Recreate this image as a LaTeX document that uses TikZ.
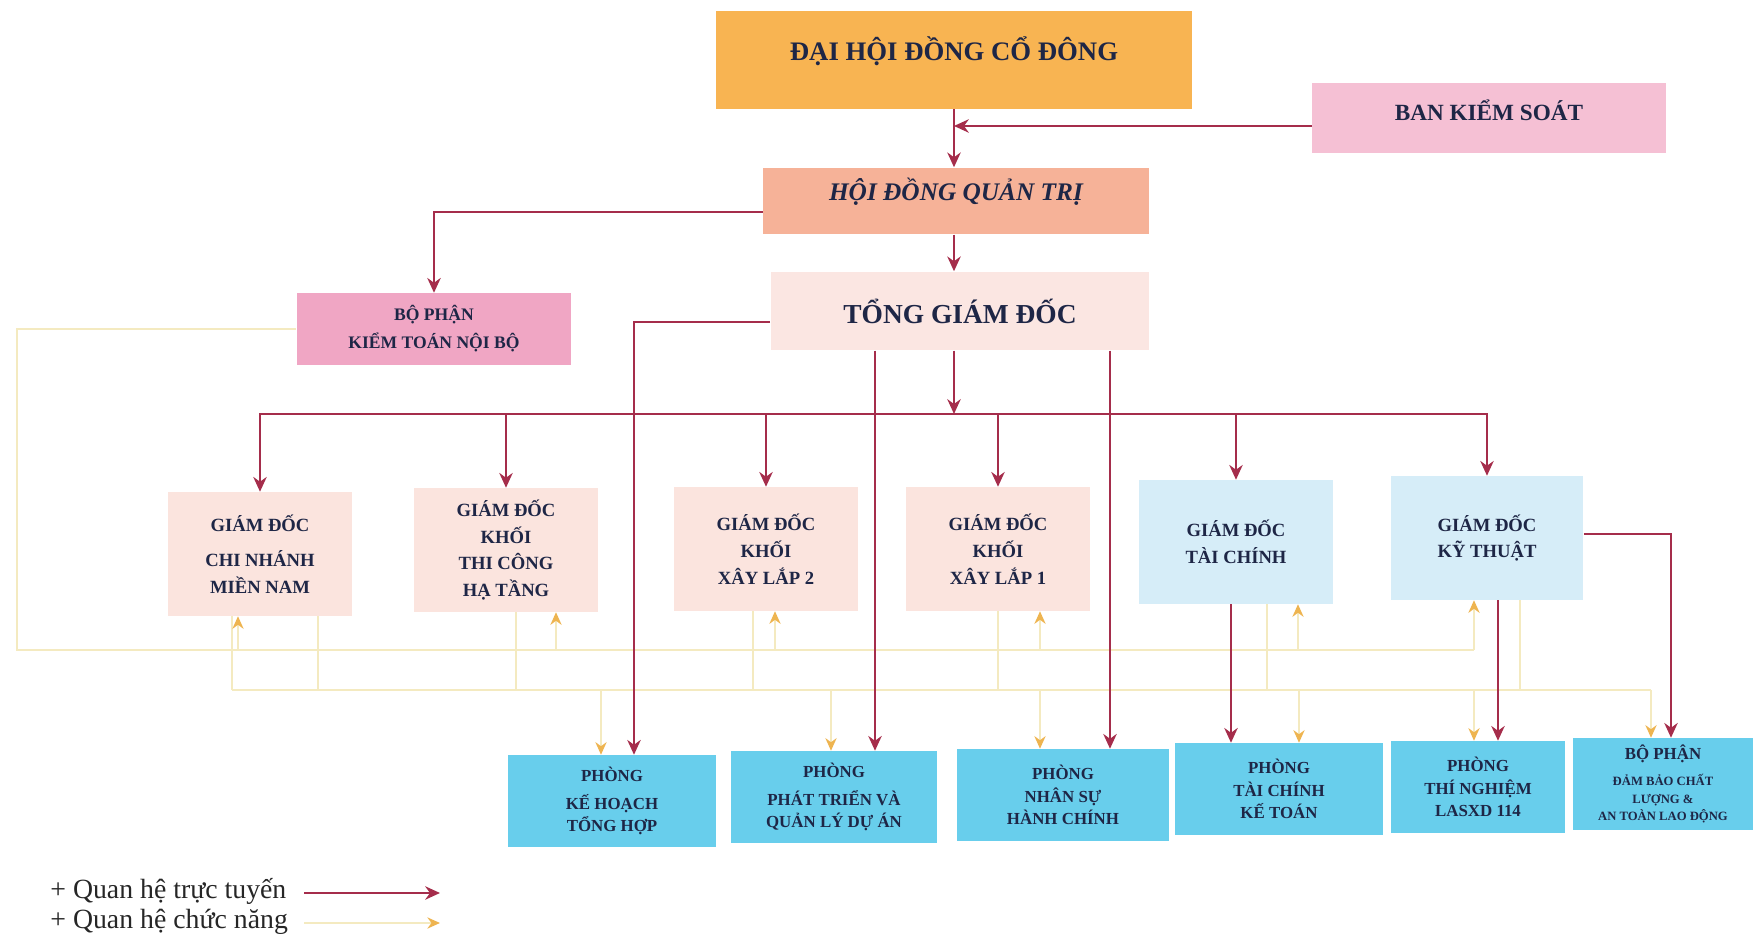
\documentclass[tikz,border=0pt]{standalone}
\usepackage{fontspec}
\setmainfont{Liberation Serif}
\usetikzlibrary{arrows.meta, positioning}

\definecolor{topfill}{RGB}{248,180,82}
\definecolor{ctrlfill}{RGB}{245,192,212}
\definecolor{boardfill}{RGB}{246,178,152}
\definecolor{auditfill}{RGB}{240,166,196}
\definecolor{ceofill}{RGB}{251,230,226}
\definecolor{dirfill}{RGB}{251,228,222}
\definecolor{techfill}{RGB}{214,237,248}
\definecolor{deptfill}{RGB}{104,206,236}
\definecolor{lineclr}{RGB}{165,45,75}
\definecolor{funcclr}{RGB}{244,234,192}
\definecolor{tipclr}{RGB}{238,180,80}
\definecolor{textclr}{RGB}{30,38,70}

\newcommand{\tinyline}[1]{{\fontsize{3.6}{4.6}\selectfont #1}}

\begin{document}
\begin{tikzpicture}[
                x=0.01cm, y=-0.01cm,
                every node/.style={text=textclr},
                orgbox/.style={rectangle, fill=#1, align=center, inner sep=0pt},
                dirbox/.style={orgbox=#1, minimum width=1.83cm, minimum height=1.23cm, font=\bfseries\fontsize{5.3}{7.6}\selectfont},
                deptbox/.style={orgbox=deptfill, minimum height=0.91cm, font=\bfseries\fontsize{4.8}{6.4}\selectfont},
                arrow/.style={draw=lineclr, line width=0.7pt, -{Stealth[length=4.2pt, width=3.8pt]}},
                func/.style={draw=funcclr, line width=0.5pt},
                farrow/.style={func, -{Stealth[length=3.6pt, width=3.2pt, color=tipclr]}}
            ]
                \useasboundingbox (0,0) rectangle (1753,937);

                % Nodes
                \node (dhd) [orgbox=topfill, minimum width=4.75cm, minimum height=0.97cm, text depth=6.5pt, font=\bfseries\fontsize{7.6}{9}\selectfont] at (954,60) {ĐẠI HỘI ĐỒNG CỔ ĐÔNG};
                \node (bks) [orgbox=ctrlfill, minimum width=3.53cm, minimum height=0.7cm, text depth=4.5pt, font=\bfseries\fontsize{6.6}{8}\selectfont] at (1489,118) {BAN KIỂM SOÁT};
                \node (hdqt) [orgbox=boardfill, minimum width=3.85cm, minimum height=0.66cm, text depth=6.5pt, font=\bfseries\itshape\fontsize{7.2}{9}\selectfont] at (956,201) {HỘI ĐỒNG QUẢN TRỊ};
                \node (ktnb) [orgbox=auditfill, minimum width=2.74cm, minimum height=0.71cm, font=\bfseries\fontsize{5}{8}\selectfont] at (434,329) {BỘ PHẬN\\KIỂM TOÁN NỘI BỘ};
                \node (tgd) [orgbox=ceofill, minimum width=3.78cm, minimum height=0.78cm, font=\bfseries\fontsize{7.8}{9}\selectfont] at (960,311) {TỔNG GIÁM ĐỐC};

                \node (gd1) [dirbox=dirfill] at (260,554) {GIÁM ĐỐC\\[2.4pt]CHI NHÁNH\\MIỀN NAM};
                \node (gd2) [dirbox=dirfill] at (506,550) {GIÁM ĐỐC\\KHỐI\\THI CÔNG\\HẠ TẦNG};
                \node (gd3) [dirbox=dirfill] at (766,549) {GIÁM ĐỐC\\KHỐI\\XÂY LẮP 2};
                \node (gd4) [dirbox=dirfill] at (998,549) {GIÁM ĐỐC\\KHỐI\\XÂY LẮP 1};
                \node (gd5) [dirbox=techfill, minimum width=1.94cm] at (1236,542) {GIÁM ĐỐC\\TÀI CHÍNH};
                \node (gd6) [dirbox=techfill, minimum width=1.92cm] at (1487,538) {GIÁM ĐỐC\\KỸ THUẬT};

                \node (p1) [deptbox, minimum width=2.07cm] at (612,801) {PHÒNG\\[1.5pt]KẾ HOẠCH\\TỔNG HỢP};
                \node (p2) [deptbox, minimum width=2.05cm] at (834,797) {PHÒNG\\[1.5pt]PHÁT TRIỂN VÀ\\QUẢN LÝ DỰ ÁN};
                \node (p3) [deptbox, minimum width=2.11cm] at (1063,795) {PHÒNG\\NHÂN SỰ\\HÀNH CHÍNH};
                \node (p4) [deptbox, minimum width=2.07cm] at (1279,789) {PHÒNG\\TÀI CHÍNH\\KẾ TOÁN};
                \node (p5) [deptbox, minimum width=1.73cm] at (1478,787) {PHÒNG\\THÍ NGHIỆM\\LASXD 114};
                \node (p6) [deptbox, minimum width=1.79cm] at (1663,784) {BỘ PHẬN\\[1pt]\tinyline{ĐẢM BẢO CHẤT}\\[-1.5pt]\tinyline{LƯỢNG \&}\\[-1.5pt]\tinyline{AN TOÀN LAO ĐỘNG}};

                \node (leg1) [anchor=west, text=black!85, font=\fontsize{7.9}{9}\selectfont] at (38,891) {+ Quan hệ trực tuyến};
                \node (leg2) [anchor=west, text=black!85, font=\fontsize{7.9}{9}\selectfont] at (38,922) {+ Quan hệ chức năng};

                % Helper points
                \coordinate (bk) at (0,126);
                \coordinate (hq) at (0,212);
                \coordinate (bus) at (954,414);
                \coordinate (kh) at (634,322);
                \coordinate (xa) at (875,0);
                \coordinate (xb) at (1110,0);
                \coordinate (xc) at (1231,0);
                \coordinate (xd) at (1498,0);
                \coordinate (ke) at (1671,534);
                \coordinate (fa) at (17,650);
                \coordinate (fae) at (1474,650);
                \coordinate (fb) at (232,690);
                \coordinate (fbe) at (1651,690);

                % Functional lines
                \draw [func] (ktnb.west) -| (fa) -- (fae);
                \draw [func] (fb) -- (fbe);
                \draw [func] (fb |- gd1.south) -- (fb);
                \foreach \n/\x in {gd1/238, gd2/556, gd3/775, gd4/1040, gd5/1298, gd6/1474} {
                    \coordinate (u) at (\x,650);
                    \draw [farrow] (u) -- (u |- \n.south);
                }
                \foreach \n/\x in {gd1/318, gd2/516, gd3/753, gd4/998, gd5/1267, gd6/1520} {
                    \coordinate (s) at (\x,690);
                    \draw [func] (s |- \n.south) -- (s);
                }
                \foreach \n/\x in {p1/601, p2/831, p3/1040, p4/1299, p5/1474, p6/1651} {
                    \coordinate (d) at (\x,690);
                    \draw [farrow] (d) -- (d |- \n.north);
                }

                % Arrows
                \draw [arrow] (dhd.south) -- (dhd.south |- hdqt.north);
                \draw [arrow] (bks.west |- bk) -- (dhd.south |- bk);
                \draw [arrow] (hdqt.west |- hq) -| (ktnb.north);
                \draw [arrow] (hdqt.south -| dhd.south) -- (tgd.north -| dhd.south);
                \draw [arrow] (tgd.south -| bus) -- (bus);
                \foreach \n in {gd1, gd2, gd3, gd4, gd5, gd6}
                    \draw [arrow] (bus) -| (\n.north);
                \draw [arrow] (tgd.west |- kh) -- (kh) -- (kh |- p1.north);
                \draw [arrow] (tgd.south -| xa) -- (p2.north -| xa);
                \draw [arrow] (tgd.south -| xb) -- (p3.north -| xb);
                \draw [arrow] (gd5.south -| xc) -- (p4.north -| xc);
                \draw [arrow] (gd6.south -| xd) -- (p5.north -| xd);
                \draw [arrow] (gd6.east |- ke) -- (ke) -- (ke |- p6.north);

                % Legend
                \coordinate (l1s) at (304,893);
                \coordinate (l1e) at (440,893);
                \coordinate (l2s) at (304,923);
                \coordinate (l2e) at (440,923);
                \draw [arrow] (l1s) -- (l1e);
                \draw [farrow] (l2s) -- (l2e);

            \end{tikzpicture}
\end{document}
